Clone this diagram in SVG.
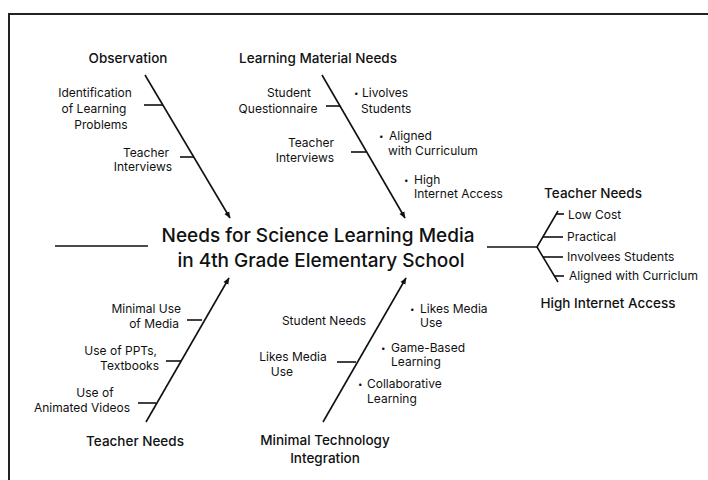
<svg xmlns="http://www.w3.org/2000/svg" width="708" height="480" viewBox="0 0 708 480">
  <style>
    text { font-family: Inter, "Noto Sans", "Liberation Sans", sans-serif; fill: #111; }
    .head { font-size: 13.5px; font-weight: 500; }
    .item { font-size: 12px; }
    .dot { font-size: 8px; }
    .title { font-size: 19px; font-weight: 500; }
    .mid { text-anchor: middle; }
    .end { text-anchor: end; }
    .bone { stroke: #111; stroke-width: 1.6; fill: none; }
    .tick { stroke: #111; stroke-width: 1.6; fill: none; }
    .frame { stroke: #222; stroke-width: 2; fill: none; }
  </style>
  <defs>
    <marker id="arrow" viewBox="0 0 10 10" refX="9" refY="5" markerWidth="7" markerHeight="7" orient="auto" markerUnits="userSpaceOnUse">
      <path d="M0,1 L10,5 L0,9 Z" fill="#111"/>
    </marker>
  </defs>
  <rect width="708" height="480" fill="#fff"/>
  <path class="frame" d="M9,480 V14 H708"/>

  <!-- spines, ticks and fan -->
  <g id="connectors">
    <line class="bone" x1="145" y1="75" x2="230" y2="218" marker-end="url(#arrow)"/>
    <line class="bone" x1="322" y1="75" x2="405" y2="218" marker-end="url(#arrow)"/>
    <line class="bone" x1="146" y1="422" x2="229" y2="278" marker-end="url(#arrow)"/>
    <line class="bone" x1="323" y1="422" x2="406" y2="278" marker-end="url(#arrow)"/>
    <line class="bone" x1="55" y1="246" x2="148" y2="246"/>
    <line class="bone" x1="487" y1="247" x2="537" y2="247"/>
    <polyline class="bone" points="558,211 537,247 558,282"/>
    <!-- ticks -->
    <line class="tick" x1="144" y1="105" x2="163" y2="105"/>
    <line class="tick" x1="180" y1="157" x2="194" y2="157"/>
    <line class="tick" x1="326" y1="106" x2="340" y2="106"/>
    <line class="tick" x1="351" y1="152" x2="366" y2="152"/>
    <line class="tick" x1="187" y1="320" x2="202" y2="320"/>
    <line class="tick" x1="166" y1="361" x2="181" y2="361"/>
    <line class="tick" x1="138" y1="403" x2="156" y2="403"/>
    <line class="tick" x1="337" y1="362" x2="356" y2="362"/>
    <line class="tick" x1="557" y1="214" x2="564" y2="214"/>
    <line class="tick" x1="543" y1="237" x2="563" y2="237"/>
    <line class="tick" x1="543" y1="257" x2="563" y2="257"/>
    <line class="tick" x1="554" y1="276" x2="564" y2="276"/>
  </g>

  <g id="center">
    <text class="title mid" x="318" y="242">Needs for Science Learning Media</text>
    <text class="title mid" x="321" y="267">in 4th Grade Elementary School</text>
  </g>

  <g id="observation">
    <text class="head mid" x="128" y="63">Observation</text>
    <text class="item mid" x="95" y="97">Identification</text>
    <text class="item mid" x="94" y="113">of Learning</text>
    <text class="item mid" x="101" y="129">Problems</text>
    <text class="item mid" x="146" y="157">Teacher</text>
    <text class="item mid" x="143" y="171">Interviews</text>
  </g>

  <g id="learning-material-needs">
    <text class="head mid" x="318" y="63">Learning Material Needs</text>
    <text class="item mid" x="289" y="97">Student</text>
    <text class="item mid" x="278" y="113">Questionnaire</text>
    <text class="item mid" x="311" y="147">Teacher</text>
    <text class="item mid" x="305" y="162">Interviews</text>
    <text class="item"><tspan class="dot" x="354" y="96">•</tspan><tspan x="362" y="97">Livolves</tspan><tspan x="361" y="113">Students</tspan></text>
    <text class="item"><tspan class="dot" x="379" y="139">•</tspan><tspan x="389" y="140">Aligned</tspan><tspan x="388" y="155">with Curriculum</tspan></text>
    <text class="item"><tspan class="dot" x="404" y="183">•</tspan><tspan x="414" y="184">High</tspan><tspan x="414" y="198">Internet Access</tspan></text>
  </g>

  <g id="teacher-needs-right">
    <text class="head mid" x="593" y="198">Teacher Needs</text>
    <text class="item" x="568" y="219">Low Cost</text>
    <text class="item" x="567" y="241">Practical</text>
    <text class="item" x="567" y="261">Involvees Students</text>
    <text class="item" x="569" y="280">Aligned with Curriclum</text>
    <text class="head mid" x="608" y="308">High Internet Access</text>
  </g>

  <g id="teacher-needs">
    <text class="head mid" x="135" y="446">Teacher Needs</text>
    <text class="item end" x="181" y="313">Minimal Use</text>
    <text class="item end" x="179" y="328">of Media</text>
    <text class="item end" x="157" y="355">Use of PPTs,</text>
    <text class="item end" x="159" y="370">Textbooks</text>
    <text class="item mid" x="95" y="397">Use of</text>
    <text class="item mid" x="82" y="412">Animated Videos</text>
  </g>

  <g id="minimal-technology-integration">
    <text class="head mid" x="325" y="445">Minimal Technology</text>
    <text class="head mid" x="325" y="463">Integration</text>
    <text class="item mid" x="324" y="325">Student Needs</text>
    <text class="item mid" x="293" y="361">Likes Media</text>
    <text class="item mid" x="282" y="376">Use</text>
    <text class="item"><tspan class="dot" x="410" y="312">•</tspan><tspan x="420" y="313">Likes Media</tspan><tspan x="420" y="327">Use</tspan></text>
    <text class="item"><tspan class="dot" x="381" y="351">•</tspan><tspan x="391" y="352">Game-Based</tspan><tspan x="391" y="366">Learning</tspan></text>
    <text class="item"><tspan class="dot" x="358" y="387">•</tspan><tspan x="367" y="388">Collaborative</tspan><tspan x="367" y="403">Learning</tspan></text>
  </g>
</svg>
